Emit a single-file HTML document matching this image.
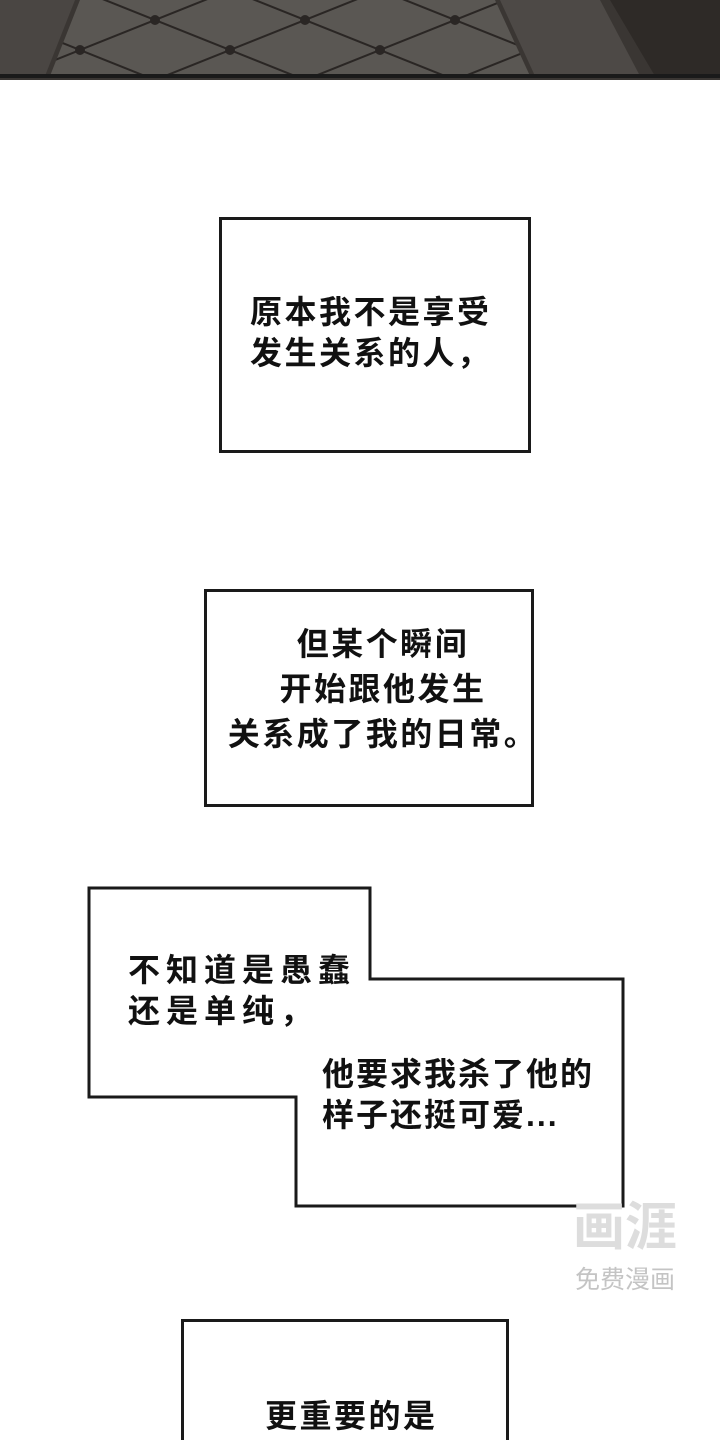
<!DOCTYPE html>
<html><head><meta charset="utf-8"><style>
html,body{margin:0;width:720px;height:1440px;overflow:hidden}
body{background:#fff;position:relative;font-family:"Liberation Sans","Noto Sans CJK SC",sans-serif}
.t{position:absolute;font-size:32px;letter-spacing:2.5px;color:#111;white-space:nowrap;line-height:41px;font-weight:700}
.b{position:absolute;border:3px solid #1a1a1a;box-sizing:border-box}
</style></head><body>
<svg width="720" height="80" style="position:absolute;left:0;top:0">
<defs><pattern id="d" width="150" height="60" patternUnits="userSpaceOnUse" x="80" y="-10">
<rect width="150" height="60" fill="#5a5753"/>
<path d="M0 0L150 60M150 0L0 60" stroke="#2a2624" stroke-width="2"/>
<circle cx="75" cy="30" r="5" fill="#2a2624"/><circle cx="0" cy="0" r="5" fill="#2a2624"/><circle cx="150" cy="60" r="5" fill="#2a2624"/><circle cx="0" cy="60" r="5" fill="#2a2624"/><circle cx="150" cy="0" r="5" fill="#2a2624"/>
</pattern></defs>
<rect width="720" height="80" fill="#3a3633"/>
<polygon points="80,0 495,0 530,76 50,76" fill="url(#d)"/>
<polygon points="0,0 75,0 45,76 0,76" fill="#4a4643"/>
<polygon points="500,0 600,0 640,76 535,76" fill="#4d4946"/>
<polygon points="610,0 720,0 720,76 655,76" fill="#2e2a27"/>
<rect y="74" width="720" height="4" fill="#1a1a1a"/>
</svg>
<div class="b" style="left:219px;top:217px;width:312px;height:236px"></div>
<div class="t" style="left:250px;top:292px">原本我不是享受<br>发生关系的人，</div>
<div class="b" style="left:204px;top:589px;width:330px;height:218px"></div>
<div class="t" style="left:227px;top:622px;text-align:center;width:312px;line-height:45px">但某个瞬间<br>开始跟他发生<br>关系成了我的日常。</div>
<svg width="720" height="1440" style="position:absolute;left:0;top:0;pointer-events:none">
<polygon points="89,888 370,888 370,979 623,979 623,1206 296,1206 296,1097 89,1097" fill="none" stroke="#1a1a1a" stroke-width="3"/>
</svg>
<div class="t" style="left:128px;top:950px;letter-spacing:6px">不知道是愚蠢<br>还是单纯，</div>
<div class="t" style="left:322px;top:1054px;letter-spacing:2px">他要求我杀了他的<br>样子还挺可爱...</div>
<div style="position:absolute;left:565px;top:1196px;width:120px;text-align:center;color:#ddd;font-size:52px;font-weight:bold;line-height:64px">画涯</div>
<div style="position:absolute;left:565px;top:1265px;width:120px;text-align:center;color:#c4c4c4;font-size:25px;line-height:30px">免费漫画</div>
<div class="b" style="left:181px;top:1319px;width:328px;height:160px"></div>
<div class="t" style="left:265px;top:1396px">更重要的是</div>
</body></html>
